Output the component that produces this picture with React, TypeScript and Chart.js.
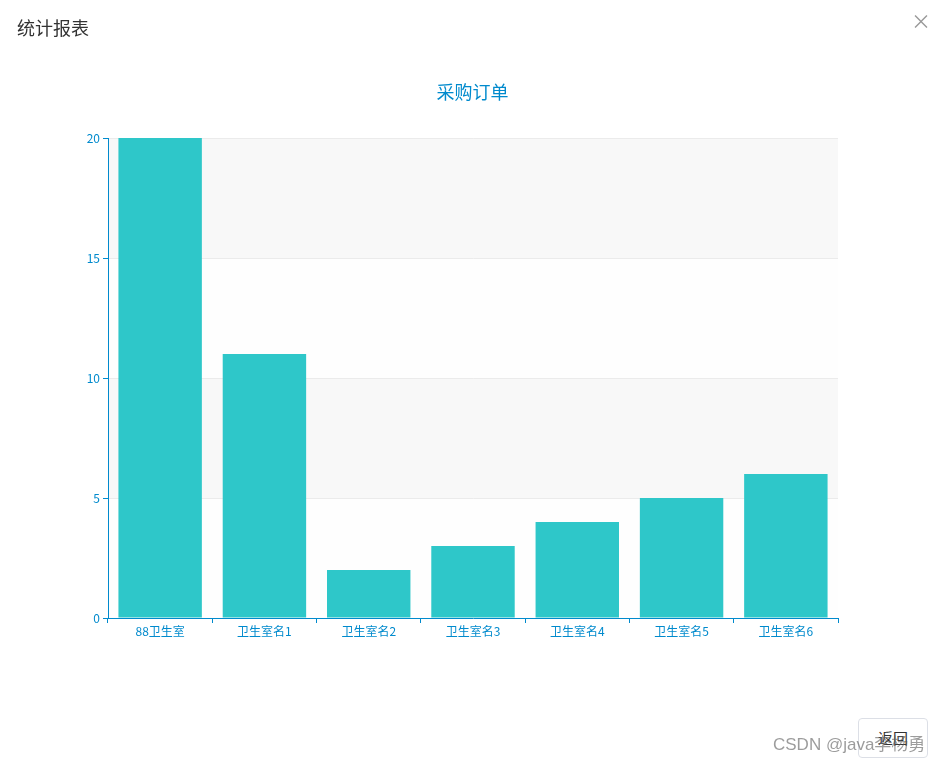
import React, { useEffect, useRef } from "react";
import { Chart, registerables } from "chart.js";

Chart.register(...registerables);

const categories = ["88卫生室", "卫生室名1", "卫生室名2", "卫生室名3", "卫生室名4", "卫生室名5", "卫生室名6"];
const orderCounts = [20, 11, 2, 3, 4, 5, 6];
const yTicks = [0, 5, 10, 15, 20];

const AXIS_BLUE = "#008acd";
const BAR_TEAL = "#2ec7c9";
const FONT = "'Noto Sans CJK SC', 'Noto Sans', sans-serif";

// Alternating horizontal bands under the grid lines and bars
const splitAreaPlugin = {
  id: "splitArea",
  beforeDraw(chart: any) {
    const { ctx, chartArea, scales } = chart;
    const y = scales.y;
    const colors = ["#fefefe", "#f8f8f8"];
    ctx.save();
    for (let i = 0; i < yTicks.length - 1; i++) {
      const top = y.getPixelForValue(yTicks[i + 1]);
      const bottom = y.getPixelForValue(yTicks[i]);
      ctx.fillStyle = colors[i % 2];
      ctx.fillRect(chartArea.left, top, chartArea.right - chartArea.left, bottom - top);
    }
    ctx.restore();
  },
};

export default function App() {
  const ref = useRef<HTMLCanvasElement>(null);

  useEffect(() => {
    const canvas = ref.current;
    if (!canvas) return;
    const chart = new Chart(canvas, {
      type: "bar",
      data: {
        labels: categories,
        datasets: [
          {
            label: "采购订单",
            data: orderCounts,
            backgroundColor: BAR_TEAL,
            borderWidth: 0,
            barPercentage: 0.8,
            categoryPercentage: 1,
          },
        ],
      },
      options: {
        animation: false,
        responsive: false,
        maintainAspectRatio: false,
        layout: { padding: { left: 0, top: 138, right: 107, bottom: 0 } },
        plugins: {
          legend: { display: false },
          title: { display: false },
          tooltip: { enabled: false },
        },
        scales: {
          x: {
            grid: {
              offset: true,
              drawOnChartArea: false,
              drawTicks: true,
              tickLength: 5,
              tickColor: AXIS_BLUE,
            },
            border: { color: AXIS_BLUE, width: 1 },
            ticks: {
              color: AXIS_BLUE,
              font: { size: 12, family: FONT },
              padding: 1,
              maxRotation: 0,
              autoSkip: false,
            },
            afterFit(scale: any) {
              scale.height = 765 - 618;
            },
          },
          y: {
            min: 0,
            max: 20,
            ticks: {
              stepSize: 5,
              color: AXIS_BLUE,
              font: { size: 12, family: FONT },
              padding: 3,
            },
            grid: {
              color: "#ebebeb",
              drawTicks: true,
              tickLength: 5,
              tickColor: AXIS_BLUE,
            },
            border: { color: AXIS_BLUE, width: 1 },
            afterFit(scale: any) {
              scale.width = 108;
            },
          },
        },
      },
      plugins: [splitAreaPlugin],
    });
    return () => chart.destroy();
  }, []);

  return (
    <div
      style={{
        position: "absolute",
        left: 0,
        top: 0,
        width: 945,
        height: 765,
        background: "#fff",
        overflow: "hidden",
        fontFamily: FONT,
      }}
    >
      <canvas ref={ref} width={945} height={765} style={{ position: "absolute", left: 0, top: 0 }} />
      <div style={{ position: "absolute", left: 17, top: 14, fontSize: 18, lineHeight: "26px", color: "#333" }}>
        统计报表
      </div>
      <div style={{ position: "absolute", left: 911, top: 8, fontSize: 20, lineHeight: "26px", color: "#999" }}>×</div>
      <div
        style={{
          position: "absolute",
          left: 0,
          width: 945,
          top: 78,
          textAlign: "center",
          fontSize: 18,
          lineHeight: "26px",
          color: AXIS_BLUE,
        }}
      >
        采购订单
      </div>
      <div
        style={{
          position: "absolute",
          left: 858,
          top: 718,
          width: 70,
          height: 40,
          boxSizing: "border-box",
          border: "1px solid #dcdfe6",
          borderRadius: 4,
          fontSize: 15,
          lineHeight: "38px",
          textAlign: "center",
          color: "#333",
          background: "#fff",
        }}
      >
        返回
      </div>
      <div
        style={{
          position: "absolute",
          left: 773,
          top: 733,
          fontSize: 17,
          lineHeight: "24px",
          color: "rgba(90,90,90,0.6)",
          fontFamily: "'Liberation Sans', Arial, 'Noto Sans CJK SC', sans-serif",
          whiteSpace: "nowrap",
        }}
      >
        CSDN @java李杨勇
      </div>
    </div>
  );
}
